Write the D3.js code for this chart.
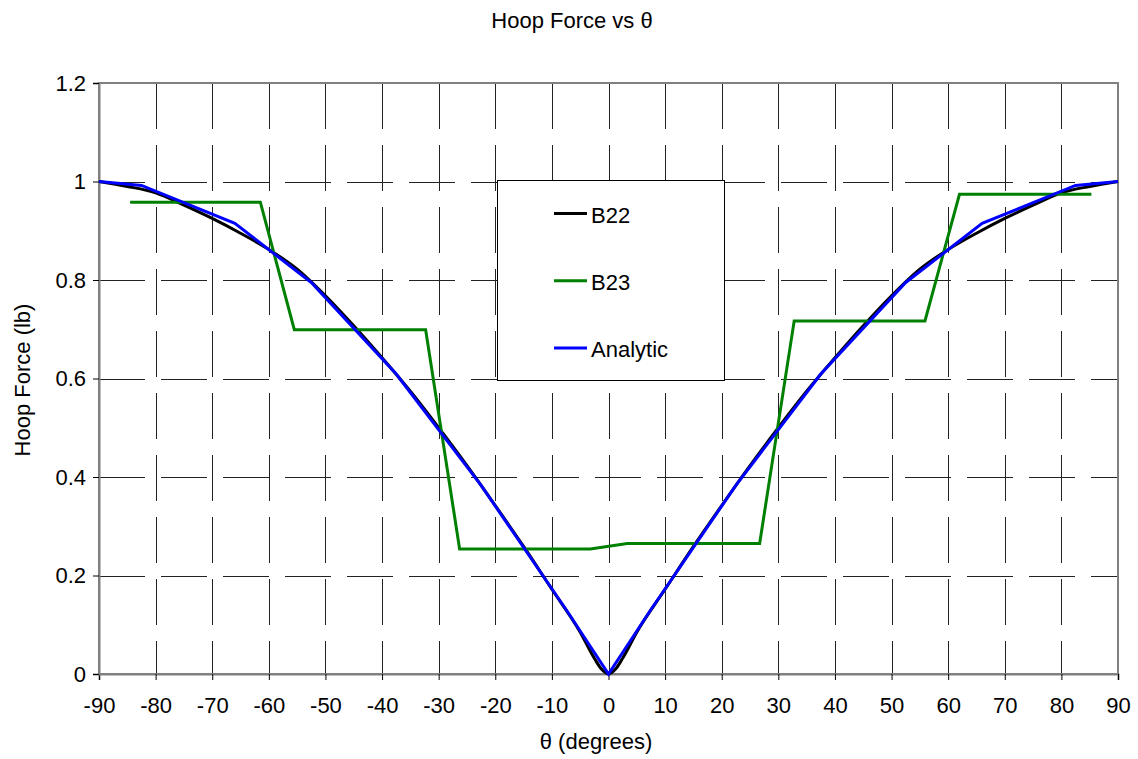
<!DOCTYPE html>
<html>
<head>
<meta charset="utf-8">
<script src="https://cdn.jsdelivr.net/npm/d3@7"></script>
<style>
  body { margin: 0; background: #fff; }
  svg { display: block; font-family: "Liberation Sans", Arial, sans-serif; }
</style>
</head>
<body>
<svg id="chart" width="1138" height="759"></svg>
<script>
// Hoop force against angle: two element models and the analytic solution
const b22Theta = [-90, -85, -80, -75, -70, -65, -60, -55, -50, -45, -40, -35, -30, -25, -20, -15, -10, -5, -2.5, -1.25, 0,
                  1.25, 2.5, 5, 10, 15, 20, 25, 30, 35, 40, 45, 50, 55, 60, 65, 70, 75, 80, 85, 90];
const b22Force = [1.000, 0.990, 0.977, 0.952, 0.925, 0.895, 0.862, 0.822, 0.768, 0.707, 0.642, 0.574, 0.500, 0.423, 0.342, 0.259, 0.172, 0.085, 0.032, 0.010, 0.000,
                  0.010, 0.032, 0.085, 0.172, 0.259, 0.342, 0.423, 0.500, 0.574, 0.642, 0.707, 0.768, 0.822, 0.862, 0.895, 0.925, 0.952, 0.977, 0.990, 1.000];

const b23Theta = [-84.5, -61.5, -55.5, -32.3, -26.3, -3.2, 3.3, 26.7, 32.8, 55.9, 62.0, 85.3];
const b23Force = [0.958, 0.958, 0.699, 0.699, 0.254, 0.254, 0.265, 0.265, 0.717, 0.717, 0.974, 0.974];

const analyticTheta = [-90, -82.5, -66, -52.5, -37.5, -22.5, -7.5, 0, 7.5, 22.5, 37.5, 52.5, 66, 82.5, 90];
const analyticForce = [1.000, 0.992, 0.915, 0.795, 0.609, 0.383, 0.131, 0.000, 0.131, 0.383, 0.609, 0.795, 0.915, 0.992, 1.000];

const xTicks = d3.range(-90, 91, 10);
const yTicks = [0, 0.2, 0.4, 0.6, 0.8, 1, 1.2];

const seriesNames = ["B22", "B23", "Analytic"];
const seriesColors = ["#000000", "#008000", "#0000ff"];

const svg = d3.select("#chart");
const plotL = 99, plotR = 1118, plotT = 83, plotB = 674;
const fontSize = 22;

const x = d3.scaleLinear().domain([-90, 90]).range([plotL, plotR]);
const y = d3.scaleLinear().domain([0, 1.2]).range([plotB, plotT]);

// plot background
svg.append("rect").attr("x", plotL).attr("y", plotT)
  .attr("width", plotR - plotL).attr("height", plotB - plotT).attr("fill", "#fff");

// dashed grid
const grid = svg.append("g").attr("stroke", "#222").attr("stroke-width", 1)
  .attr("stroke-dasharray", "46,16").attr("shape-rendering", "crispEdges");
grid.selectAll("line.v").data(xTicks.filter(d => d > -90 && d < 90)).join("line")
  .attr("class", "v")
  .attr("x1", d => Math.round(x(d)) + 0.5).attr("x2", d => Math.round(x(d)) + 0.5)
  .attr("y1", plotT).attr("y2", plotB);
grid.selectAll("line.h").data(yTicks.filter(d => d > 0 && d < 1.2)).join("line")
  .attr("class", "h")
  .attr("y1", d => Math.round(y(d)) + 0.5).attr("y2", d => Math.round(y(d)) + 0.5)
  .attr("x1", plotL).attr("x2", plotR);

// plot frame
svg.append("rect").attr("x", plotL).attr("y", plotT)
  .attr("width", plotR - plotL).attr("height", plotB - plotT)
  .attr("fill", "none").attr("stroke", "#808080").attr("stroke-width", 2);

// axes (plain hyphen for negative labels)
const xAxis = svg.append("g").attr("transform", `translate(0,${plotB})`)
  .call(d3.axisBottom(x).tickValues(xTicks).tickSize(6).tickPadding(17).tickFormat(d => String(d)));
const yAxis = svg.append("g").attr("transform", `translate(${plotL},0)`)
  .call(d3.axisLeft(y).tickValues(yTicks).tickSize(6).tickPadding(7).tickFormat(d => String(+d.toFixed(1))));
[xAxis, yAxis].forEach(a => {
  a.select(".domain").attr("stroke", "#808080").attr("stroke-width", 2);
  a.selectAll(".tick line").attr("stroke", "#000");
  a.selectAll(".tick text").attr("font-size", fontSize).attr("fill", "#000")
    .attr("font-family", "'Liberation Sans', Arial, sans-serif");
});

// series lines
const line = d3.line().x(d => x(d[0])).y(d => y(d[1]));
const b22 = b22Theta.map((t, i) => [t, b22Force[i]]);
const b23 = b23Theta.map((t, i) => [t, b23Force[i]]);
const analytic = analyticTheta.map((t, i) => [t, analyticForce[i]]);

svg.append("path").datum(b22).attr("fill", "none").attr("stroke", seriesColors[0])
  .attr("stroke-width", 3).attr("stroke-linejoin", "round")
  .attr("d", line.curve(d3.curveMonotoneX));
svg.append("path").datum(b23).attr("fill", "none").attr("stroke", seriesColors[1])
  .attr("stroke-width", 3).attr("d", line.curve(d3.curveLinear));
svg.append("path").datum(analytic).attr("fill", "none").attr("stroke", seriesColors[2])
  .attr("stroke-width", 3).attr("d", line.curve(d3.curveLinear));

// legend
const lg = svg.append("g");
lg.append("rect").attr("x", 497.5).attr("y", 180.5).attr("width", 227).attr("height", 200)
  .attr("fill", "#fff").attr("stroke", "#000").attr("stroke-width", 1);
seriesNames.forEach((name, i) => {
  const yy = 213.5 + i * 67.2;
  lg.append("line").attr("x1", 554).attr("x2", 587).attr("y1", yy).attr("y2", yy)
    .attr("stroke", seriesColors[i]).attr("stroke-width", 3);
  lg.append("text").attr("x", 591).attr("y", yy + 9.5).attr("font-size", fontSize).text(name);
});

// titles
svg.append("text").attr("x", 572).attr("y", 28).attr("text-anchor", "middle")
  .attr("font-size", fontSize).text("Hoop Force vs θ");
svg.append("text").attr("x", 596).attr("y", 749).attr("text-anchor", "middle")
  .attr("font-size", fontSize).text("θ (degrees)");
svg.append("text").attr("transform", "translate(30,380) rotate(-90)").attr("text-anchor", "middle")
  .attr("font-size", fontSize).text("Hoop Force (lb)");
</script>
</body>
</html>
